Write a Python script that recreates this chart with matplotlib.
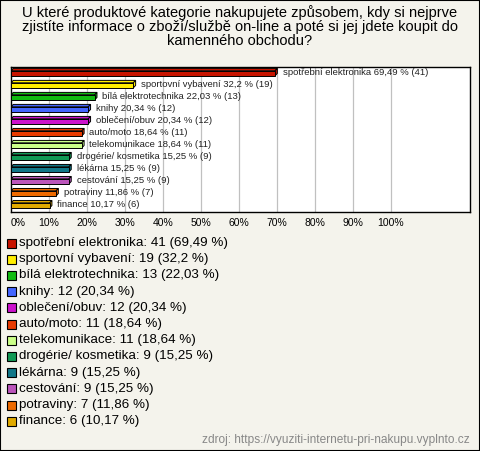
import matplotlib
matplotlib.use("Agg")
import matplotlib.pyplot as plt
from matplotlib.patches import Polygon, Rectangle

categories = ["spotřební elektronika", "sportovní vybavení", "bílá elektrotechnika", "knihy",
              "oblečení/obuv", "auto/moto", "telekomunikace", "drogérie/ kosmetika",
              "lékárna", "cestování", "potraviny", "finance"]
counts = [41, 19, 13, 12, 12, 11, 11, 9, 9, 9, 7, 6]
percents = [69.49, 32.2, 22.03, 20.34, 20.34, 18.64, 18.64, 15.25, 15.25, 15.25, 11.86, 10.17]
percent_labels = ["69,49", "32,2", "22,03", "20,34", "20,34", "18,64", "18,64", "15,25",
                  "15,25", "15,25", "11,86", "10,17"]
colors = ["#c81400", "#ffee00", "#11bb11", "#4466ff", "#cc11cc", "#e83a00", "#ccff88",
          "#119955", "#117788", "#bb55bb", "#ee6a00", "#e0aa00"]
tick_values = [0, 10, 20, 30, 40, 50, 60, 70, 80, 90, 100]
tick_labels = ["0%", "10%", "20%", "30%", "40%", "50%", "60%", "70%", "80%", "90%", "100%"]
title = "U které produktové kategorie nakupujete způsobem, kdy si nejprve\nzjistíte informace o zboží/službě on-line a poté si jej jdete koupit do\nkamenného obchodu?"
source = "zdroj: https://vyuziti-internetu-pri-nakupu.vyplnto.cz"

plt.rcParams['font.family'] = ['Liberation Sans', 'DejaVu Sans']
bg = "#f4f3ec"
W, H = 480, 451
fig = plt.figure(figsize=(W / 100, H / 100), dpi=100, facecolor=bg)
fig.patches.append(Rectangle((0, 0), 1, 1, transform=fig.transFigure, fill=False,
                             edgecolor="black", linewidth=1.5))

fig.text(0.5, 1 - 5 / H, title, ha="center", va="top", fontsize=10.5, linespacing=1.0)

ax = fig.add_axes([11 / W, 1 - 212 / H, (470 - 11) / W, (212 - 66.7) / H])
ax.set_facecolor("white")
ax.set_xlim(0, 120.8)
ax.set_ylim(11.6, -0.5)
for v in tick_values[1:]:
    ax.axvline(v, color="#c0c0c0", linewidth=0.9, zorder=0)

bh = 0.42
dx, dy = 0.6, 0.2
for i, (p, c) in enumerate(zip(percents, colors)):
    top = i - bh / 2 + 0.05
    # top face
    ax.add_patch(Polygon([(0, top), (dx, top - dy), (p + dx, top - dy), (p, top)],
                         closed=True, facecolor=c, edgecolor="black", linewidth=0.7, zorder=2))
    # side face
    ax.add_patch(Polygon([(p, top), (p + dx, top - dy), (p + dx, top - dy + bh), (p, top + bh)],
                         closed=True, facecolor=c, edgecolor="black", linewidth=0.7, zorder=2))
    ax.add_patch(Rectangle((0, top), p, bh, facecolor=c, edgecolor="black",
                           linewidth=0.7, zorder=3))
    ax.text(p + 2.0, i - 0.05, f"{categories[i]} {percent_labels[i]} % ({counts[i]})",
            fontsize=6.8, va="center", ha="left", color="#222222", zorder=4)

ax.set_xticks(tick_values)
ax.set_xticklabels(tick_labels, fontsize=7.5)
ax.get_xticklabels()[0].set_horizontalalignment("left")
ax.tick_params(axis="x", length=0, pad=4)
ax.set_yticks([])
for s in ax.spines.values():
    s.set_linewidth(1.0)
    s.set_color("black")

y0 = 243
step = 16.2
for i, (cat, n, pl, c) in enumerate(zip(categories, counts, percent_labels, colors)):
    yy = y0 + i * step
    fig.patches.append(Rectangle((7 / W, 1 - (yy + 4.5) / H), 9 / W, 9 / H,
                                 transform=fig.transFigure, facecolor=c,
                                 edgecolor="black", linewidth=0.8))
    fig.text(19 / W, 1 - yy / H, f"{cat}: {n} ({pl} %)", fontsize=9.6, va="center", ha="left")

fig.text(470 / W, 1 - 440 / H, source, fontsize=8.6, color="#888888", ha="right", va="center")

fig.savefig("out.png", dpi=100, facecolor=bg)
